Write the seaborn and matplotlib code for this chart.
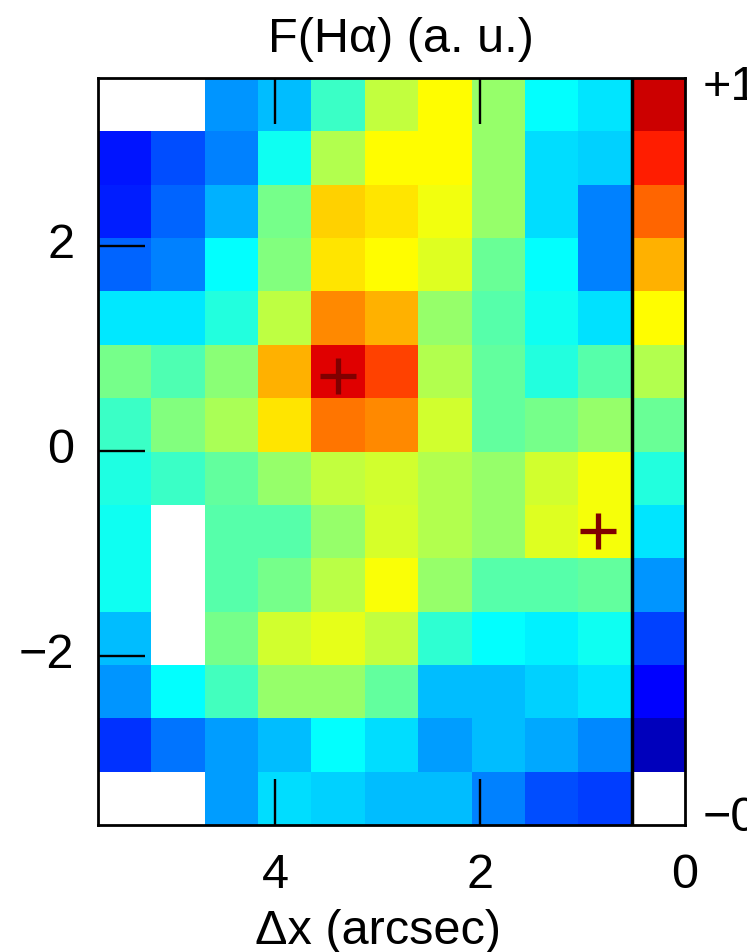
import numpy as np
import pandas as pd
import matplotlib.pyplot as plt
import seaborn as sns
from matplotlib.colors import LinearSegmentedColormap

sns.set_style('ticks')
plt.rcParams['font.family'] = ['Liberation Sans', 'DejaVu Sans']

# flux map, rows top to bottom, columns left to right
row0 = [np.nan, np.nan, .27, .31, .43, .565, .625, .52, .375, .35]
row1 = [.145, .20, .25, .39, .55, .625, .625, .52, .34, .33]
row2 = [.155, .225, .30, .49, .67, .65, .61, .52, .34, .25]
row3 = [.225, .25, .375, .50, .65, .625, .59, .48, .375, .25]
row4 = [.355, .355, .41, .56, .74, .70, .52, .46, .39, .345]
row5 = [.49, .45, .51, .70, .905, .81, .55, .47, .41, .46]
row6 = [.43, .50, .54, .65, .76, .74, .58, .47, .49, .52]
row7 = [.405, .43, .47, .52, .565, .58, .55, .52, .58, .615]
row8 = [.39, np.nan, .46, .46, .52, .585, .55, .52, .59, .615]
row9 = [.39, np.nan, .46, .49, .555, .62, .52, .46, .46, .47]
row10 = [.31, np.nan, .49, .58, .60, .565, .42, .375, .36, .39]
row11 = [.27, .375, .44, .52, .52, .47, .31, .31, .33, .35]
row12 = [.175, .24, .28, .31, .375, .34, .28, .31, .29, .26]
row13 = [np.nan, np.nan, .28, .34, .33, .31, .31, .25, .20, .185]

# the colour scale sits in the last column of the map
scale = [.925, .845, .775, .70, .625, .55, .48, .41, .35, .27, .19, .125, .06, np.nan]

x_ticks = [4, 2, 0]
y_ticks = [2, 0, -2]
peak_x = [3.385, 0.85]
peak_y = [0.73, -0.78]

rows = [row0, row1, row2, row3, row4, row5, row6, row7, row8, row9, row10, row11, row12, row13]
df = pd.DataFrame(rows)
df[10] = scale

# same idea as jet but with clean cyan and yellow like the original
rainbow = LinearSegmentedColormap.from_list('rainbow_idl', [
    (0, (0, 0, .5)), (.125, (0, 0, 1)), (.375, (0, 1, 1)),
    (.625, (1, 1, 0)), (.875, (1, 0, 0)), (1, (.5, 0, 0))], N=256)

# one cell is about 0.52 arcsec, dx runs to the left
cell = 0.5205


def to_col(dx):
    return 11 - np.array(dx) / cell


def to_row(dy):
    return 6.99 - np.array(dy) / cell


fig = plt.figure(figsize=(7.47, 9.52), dpi=100)
ax = fig.add_axes([98 / 747, 127 / 952, 587 / 747, 747 / 952])
sns.heatmap(df, cmap=rainbow, vmin=0, vmax=1, cbar=False, ax=ax)
ax.set_axisbelow(False)

ax.axvline(10, color='black', lw=2.5)
ax.plot(to_col(peak_x), to_row(peak_y), '+', color='#800000', ms=26, mew=3.8)

ax.set_xticks(to_col(x_ticks[:2]), [str(v) for v in x_ticks[:2]])
ax.set_yticks(to_row(y_ticks), [str(v).replace('-', '\u2212') for v in y_ticks], rotation=0)
ax.tick_params(axis='x', direction='in', top=True, bottom=True, length=33, width=1.7,
               labelsize=35, pad=20, color='black', labelcolor='black')
ax.tick_params(axis='y', direction='in', left=True, right=False, length=34, width=1.7,
               labelsize=35, pad=17, color='black', labelcolor='black')
for side in ax.spines.values():
    side.set_visible(True)
    side.set_linewidth(2)
    side.set_color('black')

# the 0 label sits on the frame corner, no tick mark there
ax.annotate(str(x_ticks[2]), xy=(to_col(0), 14), xycoords='data', xytext=(0, -20),
            textcoords='offset points', ha='center', va='top', fontsize=35, color='black')

ax.set_title('F(H\u03b1) (a. u.)', fontsize=35, pad=19, x=0.516, color='black')
ax.set_xlabel('\u0394x (arcsec)', fontsize=35, labelpad=8, x=0.477, color='black')
ax.set_ylabel('')

ax.text(11.33, 0.18, '+1', fontsize=35, va='center', ha='left', clip_on=False, color='black')
ax.text(11.33, 13.87, '\u22120', fontsize=35, va='center', ha='left', clip_on=False, color='black')

fig.savefig('out.png', dpi=100)
